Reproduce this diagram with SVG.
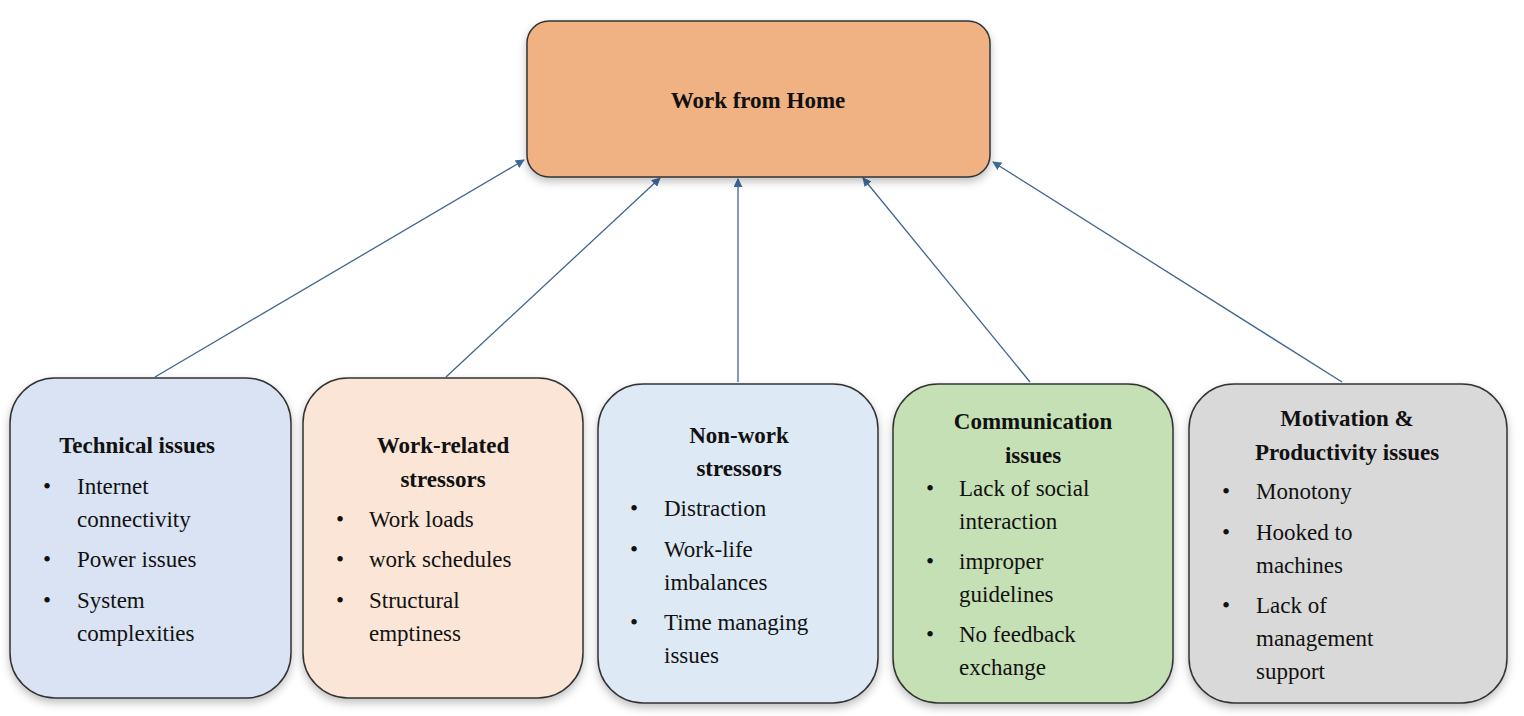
<svg xmlns="http://www.w3.org/2000/svg" width="1524" height="716" viewBox="0 0 1524 716">
<defs>
<style>
.box{stroke:#333;stroke-width:1.5}
.t{font-family:"Liberation Serif",serif;font-size:23px;fill:#111}
.h{font-weight:bold;text-anchor:middle}
.c{stroke:#3e6690;stroke-width:1.3;fill:none;marker-end:url(#a)}
</style>
<marker id="a" viewBox="0 0 10 10" refX="9" refY="5" markerWidth="9" markerHeight="9" orient="auto" markerUnits="userSpaceOnUse"><path d="M0,0L10,5L0,10z" fill="#3e6b9c"/></marker>
<filter id="s" x="-10%" y="-10%" width="120%" height="130%"><feDropShadow dx="0" dy="4" stdDeviation="4" flood-color="#000" flood-opacity="0.25"/></filter>
</defs>
<rect width="1524" height="716" fill="#fff"/>
<g id="connectors">
<line class="c" x1="155" y1="377" x2="524" y2="160"/>
<line class="c" x1="446" y1="377" x2="660" y2="178"/>
<line class="c" x1="738" y1="382" x2="738" y2="179"/>
<line class="c" x1="1030" y1="382" x2="863" y2="178"/>
<line class="c" x1="1342" y1="382" x2="993" y2="162"/>
</g>
<g id="top"><rect class="box" x="527" y="21" width="463" height="156" rx="22" fill="#f0b183" stroke="#8a6a5a" filter="url(#s)"/>
<text class="t h" x="758" y="108" font-size="25">Work from Home</text></g>
<g id="n1"><rect class="box" x="10" y="378" width="281" height="320" rx="45" fill="#dae3f3" filter="url(#s)"/>
<text class="t h" x="137" y="453">Technical issues</text>
<text class="t"><tspan x="43" y="494">•</tspan><tspan x="77" y="494">Internet</tspan><tspan x="77" y="527">connectivity</tspan><tspan x="43" y="567">•</tspan><tspan x="77" y="567">Power issues</tspan><tspan x="43" y="608">•</tspan><tspan x="77" y="608">System</tspan><tspan x="77" y="641">complexities</tspan></text></g>
<g id="n2"><rect class="box" x="303" y="378" width="280" height="320" rx="45" fill="#fbe5d6" filter="url(#s)"/>
<text class="t h"><tspan x="443" y="453">Work-related</tspan><tspan x="443" y="487">stressors</tspan></text>
<text class="t"><tspan x="336" y="527">•</tspan><tspan x="369" y="527">Work loads</tspan><tspan x="336" y="567">•</tspan><tspan x="369" y="567">work schedules</tspan><tspan x="336" y="608">•</tspan><tspan x="369" y="608">Structural</tspan><tspan x="369" y="641">emptiness</tspan></text></g>
<g id="n3"><rect class="box" x="598" y="384" width="280" height="319" rx="45" fill="#dde9f5" filter="url(#s)"/>
<text class="t h"><tspan x="739" y="443">Non-work</tspan><tspan x="739" y="476">stressors</tspan></text>
<text class="t"><tspan x="630" y="516">•</tspan><tspan x="664" y="516">Distraction</tspan><tspan x="630" y="557">•</tspan><tspan x="664" y="557">Work-life</tspan><tspan x="664" y="590">imbalances</tspan><tspan x="630" y="630">•</tspan><tspan x="664" y="630">Time managing</tspan><tspan x="664" y="663">issues</tspan></text></g>
<g id="n4"><rect class="box" x="893" y="384" width="280" height="319" rx="45" fill="#c5e0b4" filter="url(#s)"/>
<text class="t h"><tspan x="1033" y="429">Communication</tspan><tspan x="1033" y="463">issues</tspan></text>
<text class="t"><tspan x="926" y="496">•</tspan><tspan x="959" y="496">Lack of social</tspan><tspan x="959" y="529">interaction</tspan><tspan x="926" y="569">•</tspan><tspan x="959" y="569">improper</tspan><tspan x="959" y="602">guidelines</tspan><tspan x="926" y="642">•</tspan><tspan x="959" y="642">No feedback</tspan><tspan x="959" y="675">exchange</tspan></text></g>
<g id="n5"><rect class="box" x="1189" y="384" width="318" height="319" rx="45" fill="#d9d9d9" filter="url(#s)"/>
<text class="t h"><tspan x="1347" y="426">Motivation &amp;</tspan><tspan x="1347" y="460">Productivity issues</tspan></text>
<text class="t"><tspan x="1222" y="499">•</tspan><tspan x="1256" y="499">Monotony</tspan><tspan x="1222" y="540">•</tspan><tspan x="1256" y="540">Hooked to</tspan><tspan x="1256" y="573">machines</tspan><tspan x="1222" y="613">•</tspan><tspan x="1256" y="613">Lack of</tspan><tspan x="1256" y="646">management</tspan><tspan x="1256" y="679">support</tspan></text></g>
</svg>
